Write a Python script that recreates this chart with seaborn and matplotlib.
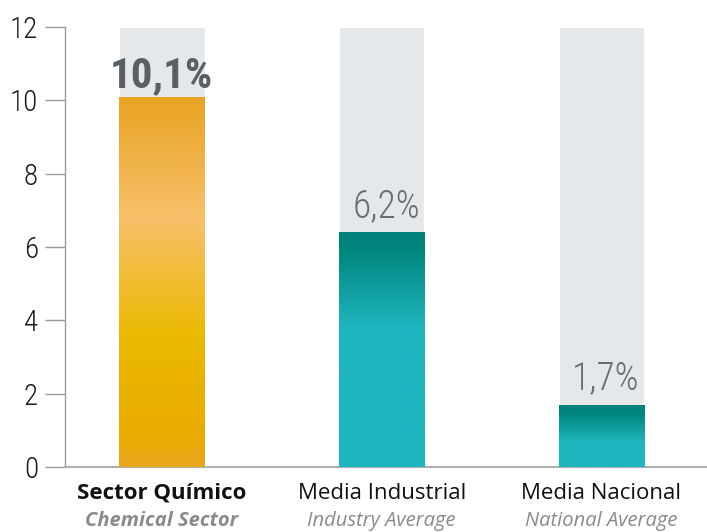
import numpy as np
import pandas as pd
import seaborn as sns
import matplotlib.pyplot as plt
from matplotlib.colors import LinearSegmentedColormap

# data
categories = ["Sector Químico", "Media Industrial", "Media Nacional"]
subtitles = ["Chemical Sector", "Industry Average", "National Average"]
values = [10.1, 6.4, 1.7]   # bar heights as drawn in the original
value_labels = ["10,1%", "6,2%", "1,7%"]
y_max = 12
y_ticks = [0, 2, 4, 6, 8, 10, 12]

sns.set_style("white")
narrow = ["Roboto Condensed", "Liberation Sans Narrow", "DejaVu Sans"]
plt.rcParams["font.family"] = ["Open Sans", "DejaVu Sans"]

df = pd.DataFrame({"cat": categories, "val": values, "bg": [y_max] * 3})

fig = plt.figure(figsize=(7.07, 5.32), dpi=100)
ax = fig.add_axes([0.092, 0.122, 0.908, 0.827])

# grey backing bars up to the scale max
sns.barplot(data=df, x="cat", y="bg", color="#e4e8eb", width=0.39,
            saturation=1, ax=ax, zorder=1)
n_bg = len(ax.patches)
sns.barplot(data=df, x="cat", y="val", color="#1fb5be", width=0.39,
            saturation=1, ax=ax, zorder=2)

orange = LinearSegmentedColormap.from_list(
    "orange", [(0, "#e8a620"), (0.08, "#e9ab00"), (0.35, "#ebb900"),
               (0.67, "#f7c06a"), (1, "#e9a423")])
teal = LinearSegmentedColormap.from_list(
    "teal", [(0, "#1fb5be"), (0.6, "#1fb5be"), (0.92, "#00867e"), (1, "#00827a")])
teal_small = LinearSegmentedColormap.from_list(
    "teal2", [(0, "#1fb5be"), (0.4, "#1fb5be"), (0.85, "#00867e"), (1, "#00827a")])
cmaps = [orange, teal, teal_small]

# gradient fills clipped to each value bar
grad = np.linspace(0, 1, 256).reshape(-1, 1)
for patch, cm in zip(ax.patches[n_bg:], cmaps):
    x0, y0 = patch.get_x(), patch.get_y()
    w, h = patch.get_width(), patch.get_height()
    im = ax.imshow(grad, cmap=cm, extent=[x0, x0 + w, y0, y0 + h],
                   origin="lower", aspect="auto", zorder=3)
    im.set_clip_path(patch)
ax.set_xlim(-0.44, 2.48)
ax.set_ylim(0, y_max)

# value labels
for i, (v, lab) in enumerate(zip(values, value_labels)):
    if i == 0:
        ax.text(i, v + 0.27, lab, ha="center", va="baseline", fontsize=31,
                fontweight="bold", fontstretch="condensed", color="#5c5e66",
                family=narrow, zorder=5)
    else:
        ax.text(i + 0.02, v + 0.42, lab, ha="center", va="baseline", fontsize=27,
                fontweight="light", fontstretch="condensed", color="#6a6d74",
                family=narrow, zorder=5)

# axes styling
ax.set_yticks(y_ticks)
ax.set_yticklabels([str(t) for t in y_ticks], family=narrow, fontsize=21,
                   fontstretch="condensed", fontweight="light", color="#1a1a1a")
ax.tick_params(axis="y", length=14.5, width=1, color="#9a9a9a", pad=5, left=True)
ax.tick_params(axis="x", length=0, labelbottom=False)
ax.set_xlabel("")
ax.set_ylabel("")
for side in ["top", "right"]:
    ax.spines[side].set_visible(False)
ax.spines["left"].set_color("#9a9a9a")
ax.spines["bottom"].set_color("#b0b0b0")
ax.spines["left"].set_linewidth(1)
ax.spines["bottom"].set_linewidth(1.5)

# category labels under the bars
for i, (cat, sub) in enumerate(zip(categories, subtitles)):
    bold = i == 0
    ax.text(i, -0.72, cat, ha="center", va="center", fontsize=16,
            fontweight="bold" if bold else "normal", color="#111111",
            clip_on=False)
    ax.text(i, -1.47, sub, ha="center", va="center", fontsize=14.5,
            fontstyle="italic", fontweight="bold" if bold else "normal",
            color="#8a8a8a", clip_on=False)

fig.savefig("out.png", dpi=100)
